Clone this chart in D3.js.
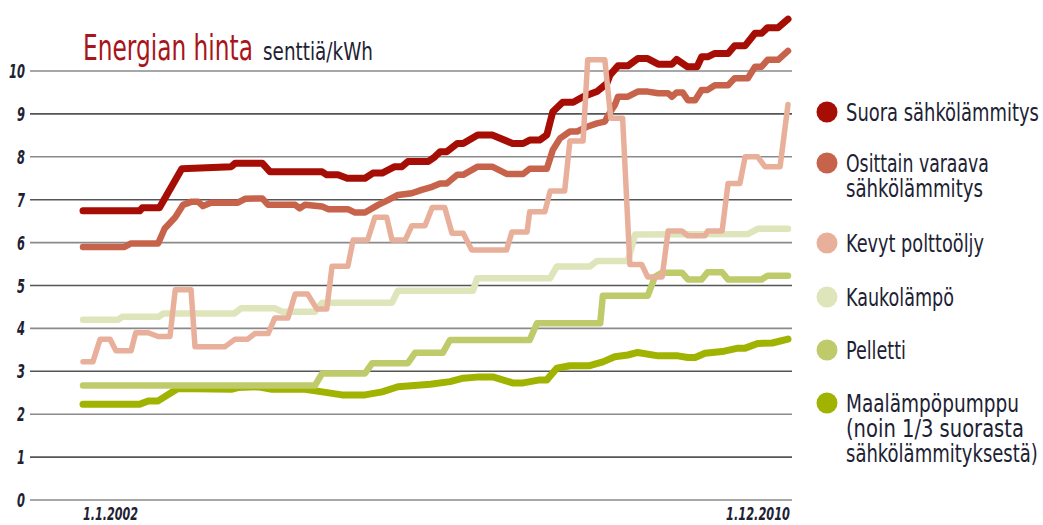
<!DOCTYPE html>
<html>
<head>
<meta charset="utf-8">
<script src="https://cdn.jsdelivr.net/npm/d3@7"></script>
<style>
  body { margin: 0; background: #fff; }
  svg { display: block; }
  text { font-family: "Liberation Sans Narrow", "DejaVu Sans Condensed", "Roboto", sans-serif; }
</style>
</head>
<body>
<svg id="chart" width="1043" height="525"></svg>
<script>
// months counted from 1.1.2002 (0) to 1.12.2010 (107); values in senttiä/kWh
var suora = [[0,6.74],[8.6,6.74],[9,6.81],[11.6,6.81],[15,7.72],[22.5,7.77],[23.1,7.85],[27.2,7.85],[28.4,7.65],[36.3,7.65],[37,7.58],[38.7,7.58],[40.1,7.5],[42.8,7.5],[44,7.62],[45.4,7.62],[47.3,7.77],[48.4,7.77],[49.3,7.89],[52.4,7.89],[53.4,8.0],[54.2,8.12],[55.2,8.12],[56.8,8.31],[57.7,8.31],[59.9,8.51],[62.1,8.51],[65.2,8.31],[66.8,8.31],[67.8,8.39],[69.3,8.39],[70.4,8.51],[71.3,9.05],[72.8,9.27],[74.4,9.27],[75.9,9.4],[78,9.52],[79.5,9.71],[80,9.91],[81.2,10.12],[82.7,10.12],[84.2,10.29],[85.7,10.29],[87.3,10.16],[89.4,10.16],[90.1,10.27],[91.7,10.1],[93.2,10.1],[93.9,10.33],[94.8,10.33],[95.9,10.41],[97.9,10.41],[98.9,10.59],[100.5,10.59],[102,10.88],[103,10.88],[103.9,11.01],[105.5,11.01],[107,11.21]];
var osittain = [[0,5.9],[6.3,5.9],[7.3,5.98],[11.4,5.98],[12.4,6.33],[14,6.59],[15.2,6.88],[16.4,6.95],[17.5,6.95],[18.2,6.85],[19.4,6.93],[23.5,6.93],[24.6,7.02],[27.2,7.03],[28.1,6.88],[32.2,6.88],[32.9,6.8],[33.7,6.88],[36.3,6.84],[37.2,6.78],[40.2,6.78],[41.3,6.7],[42.8,6.7],[44.8,6.88],[46.3,6.99],[47.8,7.11],[49.9,7.15],[51.4,7.23],[53,7.3],[54.2,7.38],[55.2,7.38],[56.8,7.58],[57.7,7.58],[59.9,7.77],[62.1,7.77],[64.3,7.6],[66.8,7.6],[67.8,7.72],[70.4,7.72],[71.3,8.16],[72.4,8.43],[73.9,8.59],[75,8.59],[76.5,8.7],[78,8.78],[79.2,8.82],[79.7,8.97],[80.7,9.2],[81.2,9.4],[82.7,9.4],[84.2,9.52],[85.7,9.52],[87.3,9.48],[88.8,9.48],[89.4,9.4],[90.1,9.5],[91,9.5],[91.8,9.32],[92.9,9.32],[93.9,9.56],[94.8,9.56],[95.9,9.67],[97.9,9.67],[98.9,9.83],[100.9,9.83],[102,10.1],[103,10.1],[103.9,10.26],[105.5,10.26],[107,10.47]];
var kevyt = [[0,3.22],[1.5,3.22],[2.6,3.75],[4.1,3.75],[5,3.48],[7.3,3.48],[8,3.9],[9.9,3.9],[11.4,3.81],[13.2,3.81],[14,4.9],[16.4,4.9],[17,3.57],[21.5,3.57],[23.1,3.75],[25,3.75],[26.1,3.88],[28.1,3.88],[29.1,4.24],[31.1,4.24],[32.2,4.8],[34.1,4.8],[35.5,4.45],[37,4.45],[37.8,5.45],[40.2,5.45],[41,6.06],[43.2,6.06],[44.3,6.59],[46.1,6.59],[46.9,6.06],[48.9,6.06],[49.9,6.39],[51.9,6.39],[53,6.82],[54.9,6.82],[56,6.22],[57.7,6.22],[59,5.83],[64.3,5.83],[65.1,6.25],[67.4,6.25],[67.8,6.72],[70.1,6.72],[70.9,7.2],[73.1,7.2],[73.9,8.37],[75.9,8.37],[76.6,10.26],[79.2,10.26],[80.1,8.9],[81.9,8.9],[83,5.49],[84.8,5.49],[85.7,5.2],[87.9,5.2],[88.8,6.27],[90.9,6.27],[91.8,6.16],[94.4,6.16],[94.8,6.27],[97,6.27],[97.9,7.38],[99.7,7.38],[100.5,8.0],[102.4,8.0],[103.5,7.77],[105.8,7.77],[107,9.22]];
var kauko = [[0,4.2],[5.3,4.2],[6,4.27],[11.5,4.27],[12.2,4.35],[23,4.35],[24,4.47],[29.1,4.47],[30.2,4.39],[35.2,4.39],[36.3,4.6],[46.9,4.6],[47.8,4.88],[59.2,4.88],[59.8,5.17],[70.9,5.17],[71.9,5.44],[76.9,5.44],[78,5.57],[82.7,5.57],[83.8,6.19],[100.9,6.2],[102.4,6.32],[107,6.32]];
var pelletti = [[0,2.67],[35.2,2.67],[36.3,2.95],[42.8,2.95],[43.9,3.19],[49.3,3.19],[50.4,3.43],[54.6,3.43],[55.7,3.73],[67.8,3.73],[68.9,4.12],[78.5,4.12],[78.9,4.76],[85.7,4.76],[86.8,5.2],[87.9,5.3],[90.9,5.3],[91.8,5.14],[93.9,5.14],[94.8,5.31],[97,5.31],[97.9,5.14],[103,5.14],[103.9,5.23],[107,5.23]];
var maalampo = [[0,2.23],[8.6,2.23],[9.9,2.31],[11.4,2.31],[14.4,2.6],[22.5,2.58],[23.5,2.62],[26.6,2.64],[28.7,2.58],[33.7,2.58],[36.3,2.52],[39.3,2.45],[42.8,2.45],[45.4,2.52],[47.8,2.64],[52.7,2.7],[55.7,2.76],[57.7,2.84],[60.2,2.87],[62.2,2.87],[65.2,2.73],[66.8,2.73],[69.3,2.8],[70.4,2.8],[71.9,3.07],[73.9,3.13],[76.9,3.13],[78.9,3.22],[80.7,3.34],[82.7,3.38],[84.2,3.44],[87.3,3.36],[90.3,3.36],[91.8,3.32],[92.9,3.32],[94.4,3.42],[97,3.46],[99.4,3.54],[100.5,3.54],[102.4,3.65],[104.6,3.66],[107,3.75]];

var legendLabels = [
  ["Suora sähkölämmitys"],
  ["Osittain varaava", "sähkölämmitys"],
  ["Kevyt polttoöljy"],
  ["Kaukolämpö"],
  ["Pelletti"],
  ["Maalämpöpumppu", "(noin 1/3 suorasta", "sähkölämmityksestä)"]
];
var yTicks = [0, 1, 2, 3, 4, 5, 6, 7, 8, 9, 10];
var xTickMonths = [0, 107];
var xTickLabels = ["1.1.2002", "1.12.2010"];

var svg = d3.select("#chart");

var x = d3.scaleLinear().domain([0, 107]).range([83, 788]);
var y = d3.scaleLinear().domain([0, 10]).range([500, 71]);

var colors = ["#a50d05", "#c7634a", "#e8b09b", "#dfe5bb", "#bfcb6b", "#a0b300"];
var widths = [7, 6.5, 5.5, 6.5, 6.5, 7];
var ink = "#1d2233";

// put a text at (px, py) and squeeze it sideways to width w (original face is condensed)
// anchor: "start" or "end"
function squeeze(text, px, py, w, anchor) {
  var natural = text.node().getComputedTextLength();
  var k = Math.min(1, w / natural);
  text.attr("x", 0).attr("y", 0)
    .attr("text-anchor", anchor || "start")
    .attr("transform", "translate(" + px + "," + py + ") scale(" + k + ",1)");
}

// gridlines
svg.append("g").selectAll("line")
  .data(yTicks).join("line")
    .attr("x1", 30).attr("x2", 792)
    .attr("y1", d => y(d)).attr("y2", d => y(d))
    .attr("stroke", (d, i) => i % 2 ? "#555" : "#8a8a8a")
    .attr("stroke-width", 1.6);

// y labels
svg.append("g").selectAll("text")
  .data(yTicks).join("text")
    .attr("font-size", 20).attr("font-weight", "bold").attr("font-style", "italic")
    .attr("fill", ink)
    .text(d => d)
    .each(function(d) {
      squeeze(d3.select(this), 25, y(d) + 7, String(d).length * 8, "end");
    });

// x labels
svg.append("g").selectAll("text")
  .data(xTickMonths).join("text")
    .attr("font-size", 17).attr("font-weight", "bold").attr("font-style", "italic")
    .attr("fill", ink)
    .text((d, i) => xTickLabels[i])
    .each(function(d, i) {
      if (i === 0) squeeze(d3.select(this), x(d), 520, 55, "start");
      else squeeze(d3.select(this), x(d) + 2, 520, 64, "end");
    });

// lines, drawn bottom to top
var series = [suora, osittain, kevyt, kauko, pelletti, maalampo];
var drawOrder = [5, 4, 3, 1, 0, 2];
var line = d3.line().x(d => x(d[0])).y(d => y(d[1]));

svg.append("g").selectAll("path")
  .data(drawOrder).join("path")
    .attr("d", i => line(series[i]))
    .attr("fill", "none")
    .attr("stroke", i => colors[i])
    .attr("stroke-width", i => widths[i])
    .attr("stroke-linejoin", "round")
    .attr("stroke-linecap", "round");

// title
svg.append("text")
  .attr("font-size", 36).attr("fill", "#a8151b")
  .text("Energian hinta")
  .call(squeeze, 83, 60, 170);
svg.append("text")
  .attr("font-size", 25).attr("fill", ink)
  .text("senttiä/kWh")
  .call(squeeze, 263, 60, 110);

// legend
var legendY = [112, 163, 243, 297, 350, 403];
var lineWidths = [[193], [143, 137], [138], [108], [60], [173, 178, 192]];
var legend = svg.append("g").selectAll("g")
  .data(legendLabels).join("g")
    .attr("transform", (d, i) => "translate(827," + legendY[i] + ")");

legend.append("circle")
  .attr("r", 10.5)
  .attr("fill", (d, i) => colors[i]);

legend.each(function(d, i) {
  d3.select(this).selectAll("text")
    .data(d).join("text")
      .attr("font-size", 25).attr("fill", ink)
      .text(t => t)
      .each(function(t, j) {
        squeeze(d3.select(this), 19, 9 + j * 25, lineWidths[i][j]);
      });
});
</script>
</body>
</html>
